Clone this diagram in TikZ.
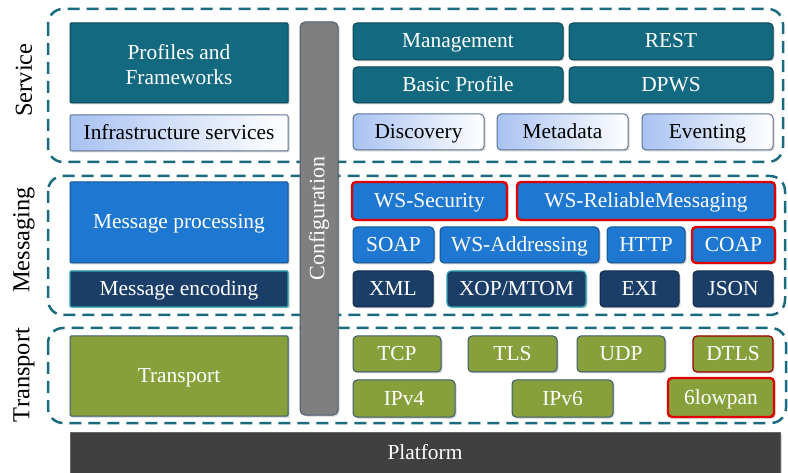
\documentclass[tikz,border=0pt]{standalone}
\usepackage{fontspec}
\setmainfont{Liberation Serif}
\usetikzlibrary{shadows}

\definecolor{layerteal}{HTML}{1B6B7F}
\definecolor{svcteal}{HTML}{13697F}
\definecolor{svcedge}{HTML}{0B4656}
\definecolor{lightblue}{HTML}{A9C2F2}
\definecolor{lightedge}{HTML}{5C7391}
\definecolor{msgblue}{HTML}{1E77D0}
\definecolor{msgedge}{HTML}{17548F}
\definecolor{encnavy}{HTML}{1B3E68}
\definecolor{encedge}{HTML}{102B4A}
\definecolor{cyanedge}{HTML}{2BA3AE}
\definecolor{trolive}{HTML}{88A03B}
\definecolor{tredge}{HTML}{3B5A6E}
\definecolor{alertred}{HTML}{E00000}
\definecolor{cfggray}{HTML}{7F7F7F}
\definecolor{cfgedge}{HTML}{4C5D6E}
\definecolor{platgray}{HTML}{404040}

\newcommand\boxfont{\fontsize{21.4}{25.5}\selectfont}
\newcommand\sidefont{\fontsize{24.4}{28}\selectfont}

\begin{document}
\begin{tikzpicture}[x=1pt,y=-1pt,
  shell/.style={rounded corners=4pt,inner sep=0pt,font=\boxfont,text=white,
                line width=1pt,
                drop shadow={shadow xshift=1.5pt,shadow yshift=-1.5pt,opacity=.35}},
  box/.style={shell,text height=15pt,text depth=2pt},
  tealbox/.style={box,fill=svcteal,draw=svcedge},
  lightbox/.style={box,left color=lightblue,right color=white,draw=lightedge,
                   text=black},
  bluebox/.style={box,fill=msgblue,draw=msgedge},
  navybox/.style={box,fill=encnavy,draw=encedge},
  olivebox/.style={box,fill=trolive,draw=tredge},
  bigbox/.style={rounded corners=1pt},
  alert/.style={draw=alertred,line width=2.4pt},
  thinred/.style={draw=alertred!70!black,line width=1.2pt},
  cyanrim/.style={draw=cyanedge,line width=1.2pt},
  plain/.style={},
  layer/.style={draw=layerteal,line width=2.5pt,dash pattern=on 12pt off 7pt,
                rounded corners=15pt},
  side/.style={rotate=90,font=\sidefont}]
  \useasboundingbox (0,0) rectangle (788,473);

  % The three dashed layers and their names.
  \draw[layer] (48,9) rectangle (783,162);
  \draw[layer] (48,176) rectangle (785,315);
  \draw[layer] (48,328) rectangle (786,423);
  \node[side] (lsvc) at (24,80) {Service};
  \node[side] (lmsg) at (24,240) {Messaging};
  \node[side] (ltr) at (24,375) {Transport};

  % Left column: one block per layer.
  \node[shell,bigbox,fill=svcteal,draw=svcedge,minimum width=218pt,
        minimum height=80pt,align=center]
    (prof) at (179,63) {\rule{0pt}{26pt}Profiles and\\Frameworks\strut};
  \node[lightbox,bigbox,minimum width=218pt,minimum height=36pt]
    (infra) at (179,133) {Infrastructure services};
  \node[bluebox,bigbox,minimum width=218pt,minimum height=81pt]
    (mproc) at (179,222.5) {Message processing};
  \node[navybox,bigbox,cyanrim,minimum width=218pt,minimum height=36pt]
    (menc) at (179,289) {Message encoding};
  \node[olivebox,bigbox,minimum width=218pt,minimum height=80pt]
    (trans) at (179,376) {Transport};

  % Service layer protocols.
  \foreach \nm/\xa/\ya/\xb/\yb/\ex/\lbl in {
      mgmt/353/23/563/60/plain/Management, rest/569/23/773/60/plain/REST,
      basic/353/67/563/103/plain/Basic Profile, dpws/569/67/773/103/plain/DPWS}
    \node[tealbox,\ex,minimum width={(\xb-\xa)*1pt},minimum height={(\yb-\ya)*1pt}]
      (\nm) at ({(\xa+\xb)/2},{(\ya+\yb)/2}) {\lbl};
  \foreach \nm/\xa/\ya/\xb/\yb/\ex/\lbl in {
      disc/353/114/484/150/plain/Discovery, meta/497/114/628/150/plain/Metadata,
      event/642/114/773/150/plain/Eventing}
    \node[lightbox,\ex,minimum width={(\xb-\xa)*1pt},minimum height={(\yb-\ya)*1pt}]
      (\nm) at ({(\xa+\xb)/2},{(\ya+\yb)/2}) {\lbl};

  % Messaging layer protocols and encodings.
  \foreach \nm/\xa/\ya/\xb/\yb/\ex/\lbl in {
      wssec/352/182/507/220/alert/WS-Security,
      wsrm/517/182/775/220/alert/WS-ReliableMessaging,
      soap/353/227/434/263/plain/SOAP, wsaddr/440/227/599/263/plain/WS-Addressing,
      http/607/227/685/263/plain/HTTP, coap/692/227/775/263/alert/COAP}
    \node[bluebox,\ex,minimum width={(\xb-\xa)*1pt},minimum height={(\yb-\ya)*1pt}]
      (\nm) at ({(\xa+\xb)/2},{(\ya+\yb)/2}) {\lbl};
  \foreach \nm/\xa/\ya/\xb/\yb/\ex/\lbl in {
      xml/353/271/433/307/plain/XML, xop/447/271/586/307/cyanrim/{XOP/MTOM},
      exi/600/271/679/307/plain/EXI, json/693/271/773/307/plain/JSON}
    \node[navybox,\ex,minimum width={(\xb-\xa)*1pt},minimum height={(\yb-\ya)*1pt}]
      (\nm) at ({(\xa+\xb)/2},{(\ya+\yb)/2}) {\lbl};

  % Transport layer protocols.
  \foreach \nm/\xa/\ya/\xb/\yb/\ex/\lbl in {
      tcp/353/336/441/372/plain/TCP, tls/468/336/557/372/plain/TLS,
      udp/577/336/665/372/plain/UDP, dtls/693/336/773/372/thinred/DTLS,
      ipv4/353/380/455/417/plain/IPv4, ipv6/512/380/613/417/plain/IPv6,
      lowpan/668/378/774/417/alert/6lowpan}
    \node[olivebox,\ex,minimum width={(\xb-\xa)*1pt},minimum height={(\yb-\ya)*1pt}]
      (\nm) at ({(\xa+\xb)/2},{(\ya+\yb)/2}) {\lbl};

  % Configuration spans all layers, platform sits below.
  \node[shell,fill=cfggray,draw=cfgedge,rounded corners=5pt,minimum width=38pt,
        minimum height=393pt,font=\fontsize{22}{26}\selectfont]
    (cfg) at (319,218.5) {\rotatebox{90}{Configuration}};
  \node[box,rounded corners=0pt,fill=platgray,draw=platgray!80!white,
        minimum width=710pt,minimum height=42pt]
    (plat) at (425,453) {Platform};
\end{tikzpicture}
\end{document}
